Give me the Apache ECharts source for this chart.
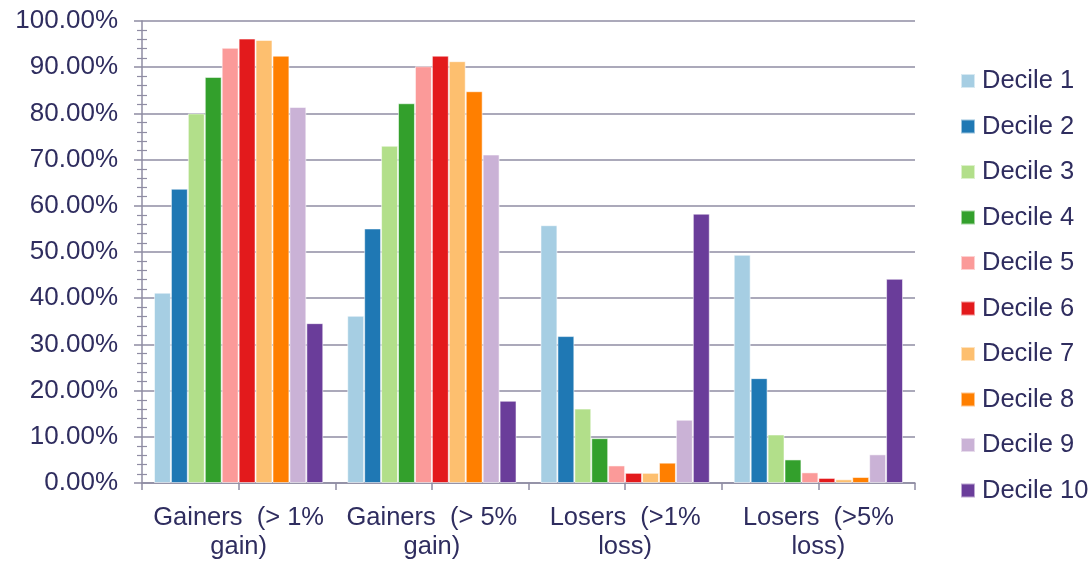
<!DOCTYPE html>
<html>
<head>
<meta charset="utf-8">
<script src="https://cdn.jsdelivr.net/npm/echarts@6/dist/echarts.min.js"></script>
<style>
  html, body { margin: 0; padding: 0; background: #ffffff; }
  #chart { width: 1091px; height: 561px; }
</style>
</head>
<body>
<div id="chart"></div>
<script>
// Share of stocks per decile falling in each gain/loss bucket
const categories = ['Gainers  (> 1%\ngain)', 'Gainers  (> 5%\ngain)', 'Losers  (>1%\nloss)', 'Losers  (>5%\nloss)'];
const seriesNames = ['Decile 1', 'Decile 2', 'Decile 3', 'Decile 4', 'Decile 5', 'Decile 6', 'Decile 7', 'Decile 8', 'Decile 9', 'Decile 10'];
const colors = ['#a6cee3', '#1f78b4', '#b2df8a', '#33a02c', '#fb9a99', '#e31a1c', '#fdbf6f', '#ff7f00', '#cab2d6', '#6a3d9a'];

const decile1  = [0.412, 0.362, 0.558, 0.494];
const decile2  = [0.637, 0.551, 0.318, 0.227];
const decile3  = [0.800, 0.730, 0.161, 0.105];
const decile4  = [0.879, 0.822, 0.097, 0.051];
const decile5  = [0.942, 0.902, 0.038, 0.023];
const decile6  = [0.962, 0.925, 0.022, 0.011];
const decile7  = [0.959, 0.913, 0.022, 0.008];
const decile8  = [0.925, 0.848, 0.044, 0.013];
const decile9  = [0.814, 0.711, 0.137, 0.062];
const decile10 = [0.346, 0.178, 0.583, 0.442];
const values = [decile1, decile2, decile3, decile4, decile5, decile6, decile7, decile8, decile9, decile10];

const textColor = '#2f2d5f';
const lineColor = '#8f8ca3';
const font = '"Liberation Sans", Arial, sans-serif';

const chart = echarts.init(document.getElementById('chart'), null, { renderer: 'canvas' });

chart.setOption({
  animation: false,
  color: colors,
  textStyle: { fontFamily: font },
  grid: { left: 142, right: 176, top: 21, bottom: 77.5, containLabel: false },
  legend: {
    orient: 'vertical',
    left: 960, top: 68, padding: 0,
    itemWidth: 14, itemHeight: 14, itemGap: 19.5,
    icon: 'rect',
    data: seriesNames,
    textStyle: { color: textColor, fontSize: 25.5, lineHeight: 26, fontFamily: font, padding: [0, 0, 0, 2] }
  },
  xAxis: [
    {
      type: 'category', data: categories,
      axisLine: { show: true, lineStyle: { color: lineColor, width: 1.5 } },
      axisTick: { show: true, length: 7, lineStyle: { color: lineColor, width: 1.5 } },
      axisLabel: { interval: 0, color: textColor, fontSize: 25.5, fontFamily: font, lineHeight: 29, margin: 20 }
    },
    {
      // half-category tick marks beneath the bars
      type: 'category', data: ['', '', '', '', '', '', '', ''], position: 'bottom',
      axisLine: { show: false },
      axisTick: { show: true, length: 7, lineStyle: { color: lineColor, width: 1.5 } },
      axisLabel: { show: false }
    }
  ],
  yAxis: [
    {
      type: 'value', min: 0, max: 1, interval: 0.1, position: 'left',
      axisLine: { show: true, lineStyle: { color: lineColor, width: 1.5 } },
      axisTick: { show: true, length: 8, lineStyle: { color: lineColor, width: 1.5 } },
      minorTick: { show: true, splitNumber: 5, length: 5, lineStyle: { color: lineColor, width: 1.2 } },
      splitLine: { show: true, lineStyle: { color: lineColor, width: 1.5 } },
      axisLabel: {
        color: textColor, fontSize: 26, fontFamily: font, margin: 24,
        formatter: v => (v * 100).toFixed(2) + '%'
      }
    },
    {
      // inward half of the minor tick marks
      type: 'value', min: 0, max: 1, interval: 0.1, position: 'left',
      axisLine: { show: false },
      axisTick: { show: false, inside: true },
      minorTick: { show: true, splitNumber: 5, length: 5, lineStyle: { color: lineColor, width: 1.2 } },
      splitLine: { show: false },
      axisLabel: { show: false }
    }
  ],
  series: seriesNames.map((name, i) => ({
    name, type: 'bar', xAxisIndex: 0, yAxisIndex: 0,
    data: values[i],
    barGap: '0%', barCategoryGap: '12.4%',
    itemStyle: { color: colors[i], borderColor: 'rgba(255,255,255,0.55)', borderWidth: 1 }
  }))
});
</script>
</body>
</html>
